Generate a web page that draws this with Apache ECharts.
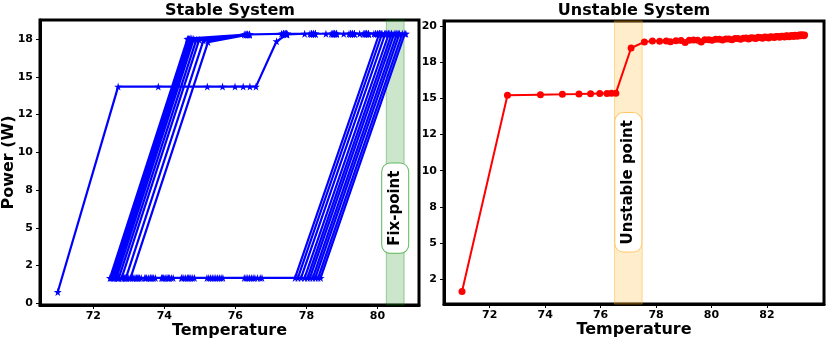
<!DOCTYPE html>
<html>
<head>
<meta charset="utf-8">
<script src="https://cdn.jsdelivr.net/npm/echarts@6/dist/echarts.min.js"></script>
<style>
  html, body { margin: 0; padding: 0; background: #fff; }
  #chart { width: 830px; height: 345px; }
</style>
</head>
<body>
<div id="chart"></div>
<script>
// stable system: temperature / power trace, in time order
var stableTrace = [
    [71.0, 0.75], [72.7, 14.35], [73.83, 14.35], [75.21, 14.35], [75.64, 14.35], [75.99, 14.35],
    [76.22, 14.35], [76.41, 14.35], [76.58, 14.35], [77.16, 17.35], [77.45, 17.8],
    [77.95, 17.85], [78.55, 17.85], [79.05, 17.85], [79.5, 17.85], [79.9, 17.85], [80.2, 17.85], [80.5, 17.85], [80.77, 17.85],
    [78.4, 1.68], [76.75, 1.68], [75.65, 1.68], [74.85, 1.68], [74.25, 1.68], [73.75, 1.68], [73.35, 1.68], [73.0, 1.68], [72.72, 1.68], [72.47, 1.68],
    [74.65, 17.5], [76.3, 17.8], [77.35, 17.85], [78.15, 17.85], [78.75, 17.85], [79.25, 17.85], [79.65, 17.85], [80.0, 17.85], [80.3, 17.85], [80.55, 17.85], [80.7, 17.85],
    [78.33, 1.68], [76.7, 1.68], [75.6, 1.68], [74.8, 1.68], [74.2, 1.68], [73.7, 1.68], [73.3, 1.68], [72.95, 1.68], [72.7, 1.68], [72.5, 1.68],
    [74.68, 17.52], [76.35, 17.8], [77.4, 17.85], [78.2, 17.85], [78.8, 17.85], [79.3, 17.85], [79.7, 17.85], [80.05, 17.85], [80.35, 17.85], [80.62, 17.85],
    [78.25, 1.68], [76.62, 1.68], [75.55, 1.68], [74.75, 1.68], [74.15, 1.68], [73.68, 1.68], [73.28, 1.68], [72.93, 1.68], [72.68, 1.68], [72.53, 1.68],
    [74.71, 17.5], [76.25, 17.8], [77.3, 17.85], [78.1, 17.85], [78.7, 17.85], [79.2, 17.85], [79.6, 17.85], [79.95, 17.85], [80.25, 17.85], [80.55, 17.85],
    [78.18, 1.68], [76.55, 1.68], [75.5, 1.68], [74.72, 1.68], [74.12, 1.68], [73.65, 1.68], [73.25, 1.68], [72.9, 1.68], [72.57, 1.68],
    [74.75, 17.55], [76.3, 17.8], [77.35, 17.85], [78.15, 17.85], [78.75, 17.85], [79.25, 17.85], [79.65, 17.85], [80.0, 17.85], [80.3, 17.85], [80.47, 17.85],
    [78.1, 1.68], [76.5, 1.68], [75.45, 1.68], [74.68, 1.68], [74.1, 1.68], [73.62, 1.68], [73.22, 1.68], [72.88, 1.68], [72.6, 1.68],
    [74.78, 17.5], [76.4, 17.8], [77.45, 17.85], [78.25, 17.85], [78.85, 17.85], [79.35, 17.85], [79.75, 17.85], [80.1, 17.85], [80.4, 17.85],
    [78.03, 1.68], [76.45, 1.68], [75.4, 1.68], [74.65, 1.68], [74.05, 1.68], [73.6, 1.68], [73.2, 1.68], [72.85, 1.68], [72.65, 1.68],
    [74.83, 17.5], [76.35, 17.8], [77.4, 17.85], [78.2, 17.85], [78.8, 17.85], [79.3, 17.85], [79.7, 17.85], [80.05, 17.85], [80.32, 17.85],
    [77.95, 1.68], [76.4, 1.68], [75.35, 1.68], [74.6, 1.68], [74.02, 1.68], [73.55, 1.68], [73.15, 1.68], [72.72, 1.68],
    [74.9, 17.45], [76.3, 17.8], [77.35, 17.85], [78.15, 17.85], [78.75, 17.85], [79.25, 17.85], [79.65, 17.85], [79.95, 17.85], [80.22, 17.85],
    [77.85, 1.68], [76.35, 1.68], [75.3, 1.68], [74.55, 1.68], [73.98, 1.68], [73.5, 1.68], [73.12, 1.68], [72.8, 1.68],
    [74.98, 17.45], [76.4, 17.8], [77.45, 17.85], [78.25, 17.85], [78.85, 17.85], [79.35, 17.85], [79.75, 17.85], [80.13, 17.85],
    [77.76, 1.68], [76.3, 1.68], [75.25, 1.68], [74.5, 1.68], [73.95, 1.68], [73.48, 1.68], [73.1, 1.68], [72.92, 1.68],
    [75.1, 17.4], [76.35, 17.8], [77.4, 17.85], [78.2, 17.85], [78.8, 17.85], [79.3, 17.85], [79.7, 17.85], [80.05, 17.85],
    [77.68, 1.68], [76.25, 1.68], [75.2, 1.68], [74.48, 1.68], [73.92, 1.68], [73.45, 1.68], [73.05, 1.68],
    [75.23, 17.3], [76.4, 17.8], [77.45, 17.85], [78.25, 17.85], [78.85, 17.85], [79.35, 17.85], [79.75, 17.85], [80.1, 17.85], [80.4, 17.85], [80.6, 17.85], [80.8, 17.85]
];

// unstable system trace
var unstableTrace = [
    [71.0, 1.64], [72.64, 15.23], [73.83, 15.27], [74.62, 15.29], [75.22, 15.31], [75.64, 15.34], [75.97, 15.35],
    [76.23, 15.35], [76.39, 15.36], [76.55, 15.37], [77.1, 18.5], [77.58, 18.92], [77.87, 18.99], [78.13, 18.97],
    [78.37, 18.98], [78.52, 18.93], [78.72, 19.0], [78.9, 19.02], [79.05, 18.88], [79.2, 19.03], [79.35, 19.05],
    [79.5, 19.04], [79.63, 18.92], [79.76, 19.07], [79.9, 19.08], [80.02, 19.03], [80.15, 19.1], [80.28, 19.11],
    [80.4, 19.05], [80.52, 19.13], [80.63, 19.12], [80.74, 19.08], [80.85, 19.15], [80.95, 19.16], [81.05, 19.1],
    [81.15, 19.18], [81.25, 19.19], [81.34, 19.13], [81.43, 19.21], [81.52, 19.2], [81.6, 19.16], [81.68, 19.24],
    [81.76, 19.22], [81.84, 19.18], [81.92, 19.26], [81.99, 19.25], [82.06, 19.2], [82.13, 19.28], [82.2, 19.27],
    [82.27, 19.23], [82.33, 19.3], [82.4, 19.29], [82.46, 19.24], [82.52, 19.32], [82.58, 19.31], [82.64, 19.26],
    [82.7, 19.34], [82.75, 19.33], [82.8, 19.28], [82.86, 19.35], [82.91, 19.36], [82.96, 19.3], [83.01, 19.38],
    [83.05, 19.36], [83.1, 19.32], [83.14, 19.39], [83.18, 19.4], [83.22, 19.34], [83.26, 19.41], [83.3, 19.38],
    [83.33, 19.35], [83.36, 19.4]
];

var stableXTicks = [72, 74, 76, 78, 80];
var unstableXTicks = [72, 74, 76, 78, 80, 82];
var stableYTicks = [0, 2.5, 5, 7.5, 10, 12.5, 15, 17.5];
var stableYLabels = ['0', '2', '5', '8', '10', '12', '15', '18'];
var unstableYTicks = [2.5, 5, 7.5, 10, 12.5, 15, 17.5, 20];
var unstableYLabels = ['2', '5', '8', '10', '12', '15', '18', '20'];

var fixSpan = [80.25, 80.75];
var unstableSpan = [76.5, 77.5];

var FONT = 'DejaVu Sans';
var starPath = 'path://M50,0 L61,35 L98,35 L68,57 L79,91 L50,70 L21,91 L32,57 L2,35 L39,35 Z';

var chart = echarts.init(document.getElementById('chart'));

function xAxisCfg(idx, min, max, ticks) {
    return {
        type: 'value', gridIndex: idx, min: min, max: max,
        name: 'Temperature', nameLocation: 'middle', nameGap: 18, nameMoveOverlap: false,
        nameTextStyle: { fontFamily: FONT, fontWeight: 'bold', fontSize: 16, color: '#000' },
        axisLine: { show: true, onZero: false, lineStyle: { color: '#000', width: 3 } },
        axisTick: { show: true, length: 4, customValues: ticks, lineStyle: { color: '#000', width: 1 } },
        axisLabel: { customValues: ticks, margin: 6, fontFamily: FONT, fontWeight: 'bold', fontSize: 11, color: '#000' },
        splitLine: { show: false }
    };
}

function yAxisCfg(idx, min, max, ticks, labels, offset, name) {
    return {
        type: 'value', gridIndex: idx, min: min, max: max,
        name: name, nameLocation: 'middle', nameGap: 23, nameMoveOverlap: false,
        nameTextStyle: { fontFamily: FONT, fontWeight: 'bold', fontSize: 16, color: '#000' },
        axisLine: { show: true, onZero: false, lineStyle: { color: '#000', width: 3 } },
        axisTick: { show: true, length: 4, customValues: ticks, lineStyle: { color: '#000', width: 1 } },
        axisLabel: {
            customValues: ticks, margin: 7, fontFamily: FONT, fontWeight: 'bold', fontSize: 11, color: '#000',
            formatter: function(v) { return labels[Math.round(v / 2.5) - offset]; }
        },
        splitLine: { show: false }
    };
}

var boxLabel = function(text, edge) {
    return {
        show: true, position: 'inside', formatter: text, rotate: 90,
        fontFamily: FONT, fontWeight: 'bold', fontSize: 15, color: '#000',
        backgroundColor: '#fff', borderColor: edge, borderWidth: 1, borderRadius: 8,
        padding: [6, 7, 5, 7]
    };
};

var option = {
    animation: false,
    backgroundColor: '#fff',
    title: [
        { text: 'Stable System', left: 230, top: 3, textAlign: 'center', padding: 0,
          textStyle: { fontFamily: FONT, fontWeight: 'bold', fontSize: 16, color: '#000' } },
        { text: 'Unstable System', left: 634, top: 3, textAlign: 'center', padding: 0,
          textStyle: { fontFamily: FONT, fontWeight: 'bold', fontSize: 16, color: '#000' } }
    ],
    grid: [
        { left: 40, top: 20, width: 379, height: 285, outerBoundsMode: 'none', containLabel: false,
          show: true, borderColor: '#000', borderWidth: 3 },
        { left: 444, top: 21, width: 380, height: 283, outerBoundsMode: 'none', containLabel: false,
          show: true, borderColor: '#000', borderWidth: 3 }
    ],
    xAxis: [
        xAxisCfg(0, 70.5, 81.17, stableXTicks),
        xAxisCfg(1, 70.35, 84.06, unstableXTicks)
    ],
    yAxis: [
        yAxisCfg(0, -0.11, 18.76, stableYTicks, stableYLabels, 0, 'Power (W)'),
        yAxisCfg(1, 0.77, 20.37, unstableYTicks, unstableYLabels, 1, '')
    ],
    series: [
        {
            type: 'line', xAxisIndex: 0, yAxisIndex: 0,
            data: stableTrace,
            symbol: starPath, symbolSize: 8, showSymbol: true,
            lineStyle: { color: '#0000ff', width: 2.2 },
            itemStyle: { color: '#0000ff' },
            markArea: {
                silent: true,
                itemStyle: { color: 'rgba(0,128,0,0.2)', borderColor: 'rgba(0,128,0,0.35)', borderWidth: 1 },
                data: [[{ xAxis: fixSpan[0] }, { xAxis: fixSpan[1] }]]
            },
            markPoint: {
                silent: true, symbol: 'circle', symbolSize: 0,
                label: boxLabel('Fix-point', '#5cb85c'),
                data: [{ coord: [80.5, 6.3] }]
            }
        },
        {
            type: 'line', xAxisIndex: 1, yAxisIndex: 1,
            data: unstableTrace,
            symbol: 'circle', symbolSize: 7, showSymbol: true,
            lineStyle: { color: '#ff0000', width: 2 },
            itemStyle: { color: '#ff0000' },
            markArea: {
                silent: true,
                itemStyle: { color: 'rgba(255,165,0,0.2)', borderColor: 'rgba(255,165,0,0.4)', borderWidth: 1 },
                data: [[{ xAxis: unstableSpan[0] }, { xAxis: unstableSpan[1] }]]
            },
            markPoint: {
                silent: true, symbol: 'circle', symbolSize: 0,
                label: boxLabel('Unstable point', '#ffc86b'),
                data: [{ coord: [77.0, 9.2] }]
            }
        }
    ]
};

chart.setOption(option);
</script>
</body>
</html>
